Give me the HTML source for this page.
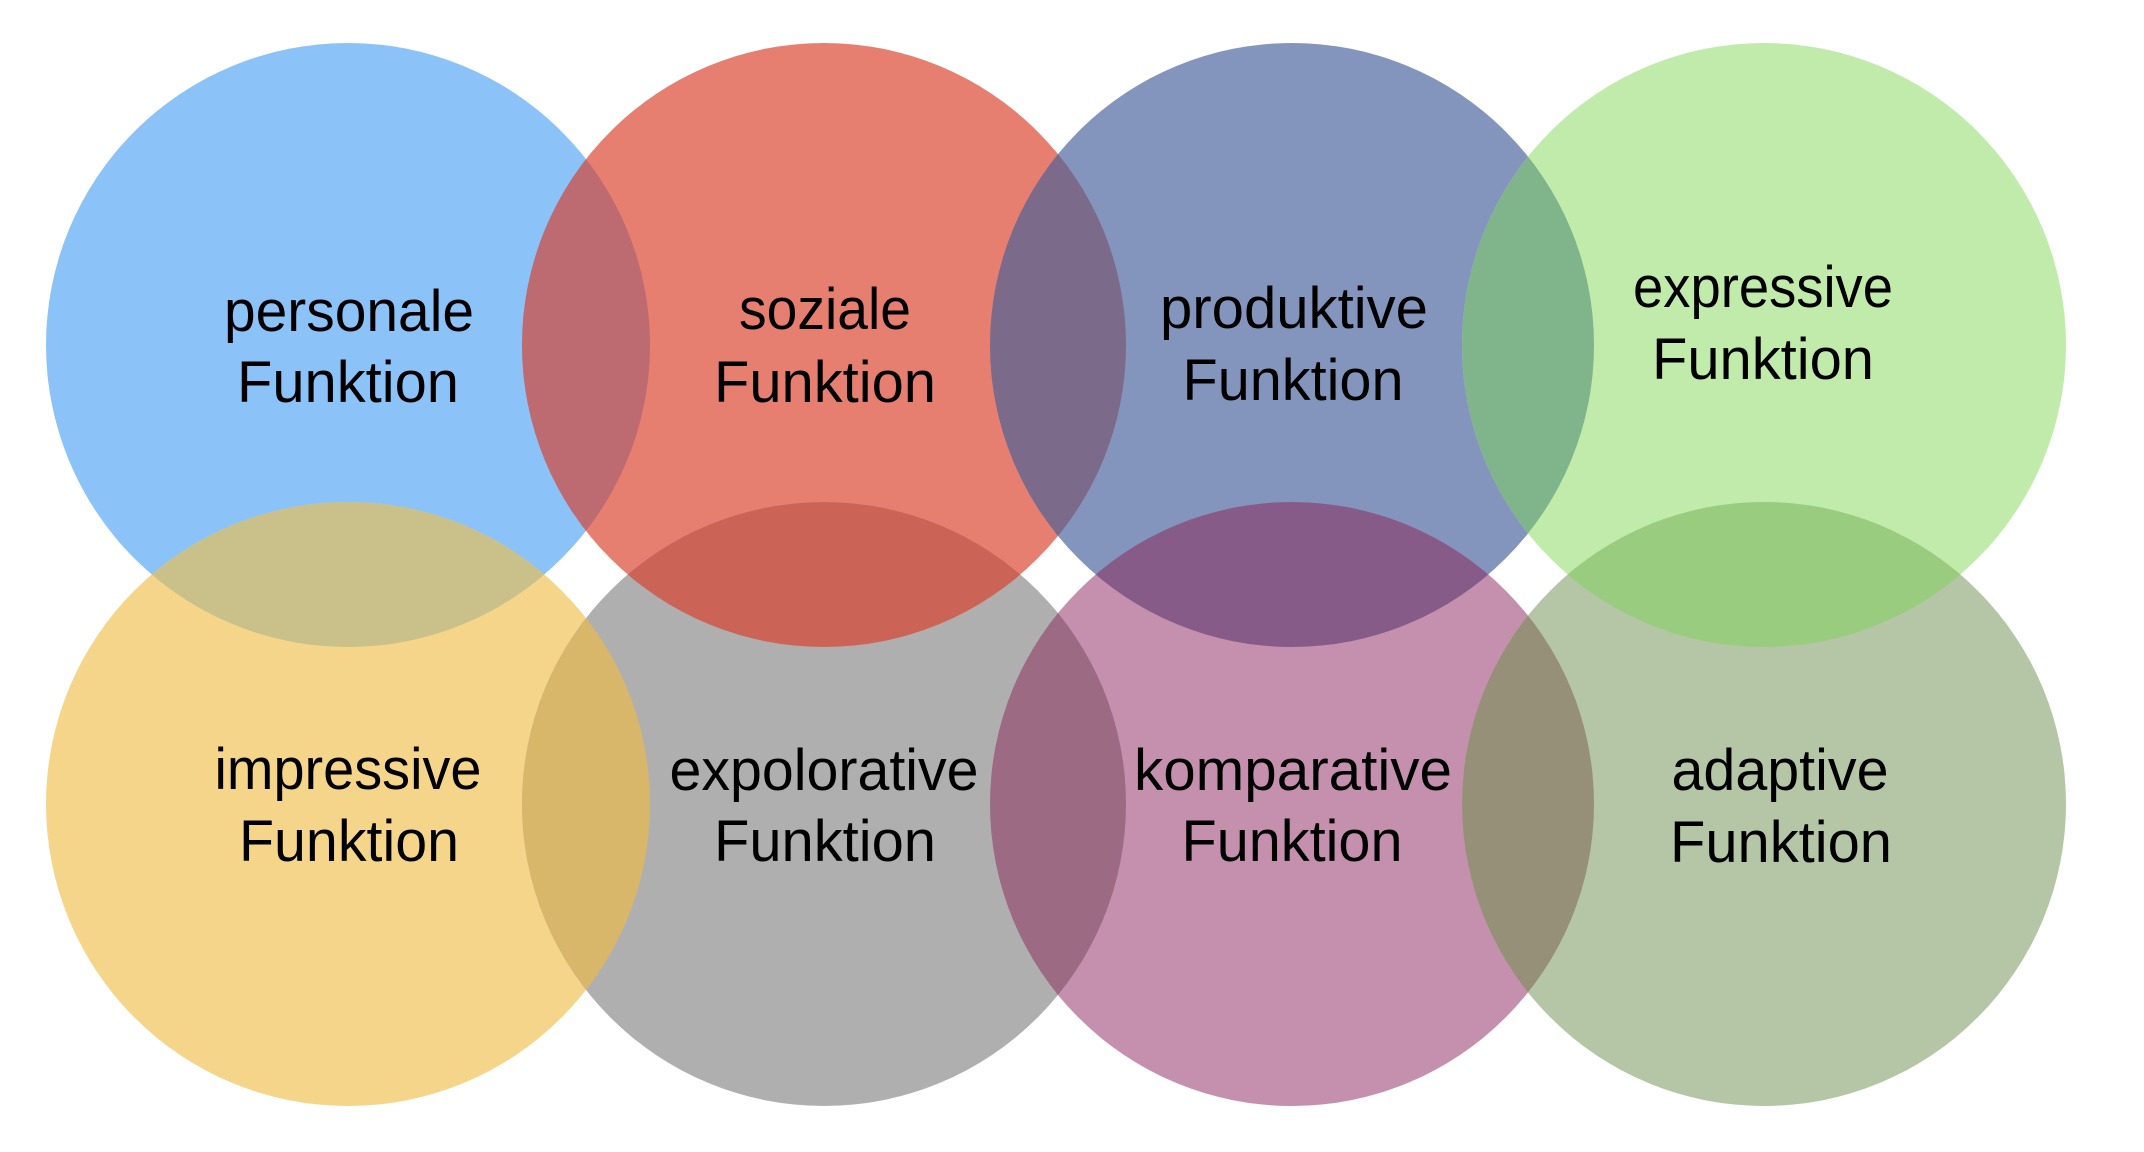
<!DOCTYPE html>
<html>
<head>
<meta charset="utf-8">
<style>
  html, body { margin: 0; padding: 0; background: #ffffff; }
  body { width: 2144px; height: 1152px; overflow: hidden; }
  svg { display: block; }
  text { font-family: "Liberation Sans", "DejaVu Sans", sans-serif; font-size: 58px; fill: #000; }
</style>
</head>
<body>
<svg width="2144" height="1152" viewBox="0 0 2144 1152" xmlns="http://www.w3.org/2000/svg">
  <defs>
    <clipPath id="c1"><circle cx="348" cy="345" r="302"/></clipPath>
    <clipPath id="c2"><circle cx="824" cy="345" r="302"/></clipPath>
    <clipPath id="c3"><circle cx="1292" cy="345" r="302"/></clipPath>
    <clipPath id="c4"><circle cx="1764" cy="345" r="302"/></clipPath>
    <clipPath id="c5"><circle cx="348" cy="804" r="302"/></clipPath>
    <clipPath id="c6"><circle cx="824" cy="804" r="302"/></clipPath>
    <clipPath id="c7"><circle cx="1292" cy="804" r="302"/></clipPath>
    <clipPath id="c8"><circle cx="1764" cy="804" r="302"/></clipPath>
  </defs>
  <rect width="2144" height="1152" fill="#ffffff"/>

  <!-- base circles -->
  <circle cx="348" cy="345" r="302" fill="#8BC3F8"/>
  <circle cx="824" cy="345" r="302" fill="#E77F70"/>
  <circle cx="1292" cy="345" r="302" fill="#8395BC"/>
  <circle cx="1764" cy="345" r="302" fill="#C1EBAB"/>
  <circle cx="348" cy="804" r="302" fill="#F5D58A"/>
  <circle cx="824" cy="804" r="302" fill="#AFAFAF"/>
  <circle cx="1292" cy="804" r="302" fill="#C490AD"/>
  <circle cx="1764" cy="804" r="302" fill="#B4C6A5"/>

  <!-- horizontal overlaps, top row -->
  <circle cx="824" cy="345" r="302" fill="#BD6B70" clip-path="url(#c1)"/>
  <circle cx="1292" cy="345" r="302" fill="#7B6A8A" clip-path="url(#c2)"/>
  <circle cx="1764" cy="345" r="302" fill="#80B48A" clip-path="url(#c3)"/>
  <!-- horizontal overlaps, bottom row -->
  <circle cx="824" cy="804" r="302" fill="#D8B76B" clip-path="url(#c5)"/>
  <circle cx="1292" cy="804" r="302" fill="#9D6A84" clip-path="url(#c6)"/>
  <circle cx="1764" cy="804" r="302" fill="#969079" clip-path="url(#c7)"/>
  <!-- vertical overlaps -->
  <circle cx="348" cy="804" r="302" fill="#C9C08A" clip-path="url(#c1)"/>
  <circle cx="824" cy="804" r="302" fill="#CB6456" clip-path="url(#c2)"/>
  <circle cx="1292" cy="804" r="302" fill="#865B88" clip-path="url(#c3)"/>
  <circle cx="1764" cy="804" r="302" fill="#9ACC80" clip-path="url(#c4)"/>

  <!-- labels -->
  <text x="349" y="331" text-anchor="middle" textLength="250" lengthAdjust="spacingAndGlyphs">personale</text>
  <text x="348" y="402" text-anchor="middle" textLength="222" lengthAdjust="spacingAndGlyphs">Funktion</text>

  <text x="825" y="329" text-anchor="middle" textLength="172" lengthAdjust="spacingAndGlyphs">soziale</text>
  <text x="825" y="402" text-anchor="middle" textLength="222" lengthAdjust="spacingAndGlyphs">Funktion</text>

  <text x="1294" y="328" text-anchor="middle" textLength="268" lengthAdjust="spacingAndGlyphs">produktive</text>
  <text x="1293" y="400" text-anchor="middle" textLength="221" lengthAdjust="spacingAndGlyphs">Funktion</text>

  <text x="1763" y="307" text-anchor="middle" textLength="260" lengthAdjust="spacingAndGlyphs">expressive</text>
  <text x="1763" y="379" text-anchor="middle" textLength="222" lengthAdjust="spacingAndGlyphs">Funktion</text>

  <text x="348" y="789" text-anchor="middle" textLength="267" lengthAdjust="spacingAndGlyphs">impressive</text>
  <text x="349" y="861" text-anchor="middle" textLength="220" lengthAdjust="spacingAndGlyphs">Funktion</text>

  <text x="824" y="790" text-anchor="middle" textLength="309" lengthAdjust="spacingAndGlyphs">expolorative</text>
  <text x="825" y="861" text-anchor="middle" textLength="222" lengthAdjust="spacingAndGlyphs">Funktion</text>

  <text x="1293" y="790" text-anchor="middle" textLength="318" lengthAdjust="spacingAndGlyphs">komparative</text>
  <text x="1292" y="861" text-anchor="middle" textLength="221" lengthAdjust="spacingAndGlyphs">Funktion</text>

  <text x="1780" y="790" text-anchor="middle" textLength="217" lengthAdjust="spacingAndGlyphs">adaptive</text>
  <text x="1781" y="862" text-anchor="middle" textLength="222" lengthAdjust="spacingAndGlyphs">Funktion</text>
</svg>
</body>
</html>
